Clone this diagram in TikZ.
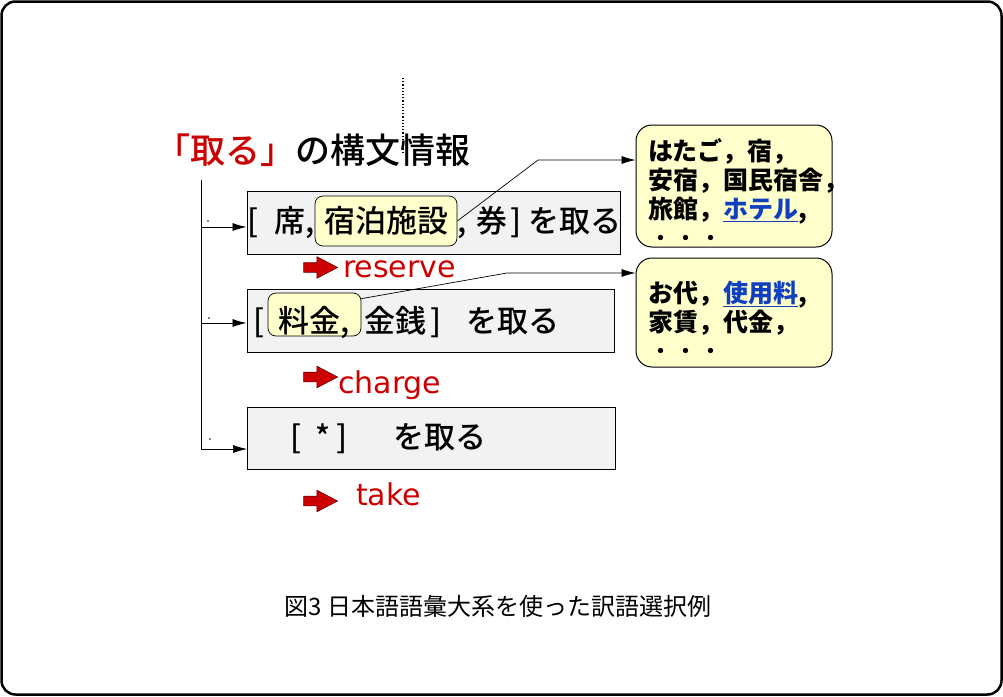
\documentclass[tikz,border=0pt]{standalone}
\usepackage{fontspec}
\setmainfont{Noto Sans CJK JP}
\newfontfamily\jpmed{Noto Sans CJK JP Medium}
\newfontfamily\latinsf{DejaVu Sans}
\usetikzlibrary{positioning,arrows.meta,shapes.arrows}
\definecolor{panel}{HTML}{F2F2F2}
\definecolor{memo}{HTML}{FFFFCC}
\definecolor{aka}{HTML}{CC0000}
\definecolor{ao}{HTML}{1040C0}

\tikzset{
  patternbox/.style={draw, line width=1pt, fill=panel, inner sep=0pt},
  hl/.style={draw, line width=0.7pt, fill=memo, rounded corners=8pt, inner sep=0pt},
  memobox/.style={draw, line width=1pt, fill=memo, rounded corners=16pt, inner sep=0pt, minimum width=196pt},
  redarrow/.style={single arrow, fill=aka, draw=aka!55!black, line width=0.6pt, inner sep=4.5pt,
    single arrow head extend=6pt, single arrow tip angle=55, minimum height=34pt},
  trans/.style={text=aka, font=\latinsf\fontsize{30}{36}\selectfont, anchor=base west, inner sep=0pt},
  jp/.style={font=\jpmed\fontsize{31}{36}\selectfont, inner sep=0pt},
  memotext/.style={font=\bfseries\fontsize{25}{29}\selectfont, align=left, anchor=north west, inner sep=0pt},
}

\begin{document}
\begin{tikzpicture}[>={Latex[length=14pt,width=8pt]}, x=1pt, y=-1pt]
  \useasboundingbox (0,0) rectangle (1003,696);
  \draw[line width=2.5pt, rounded corners=14pt] (1.5,1.5) rectangle (1001.5,694.5);

  % title
  \draw[dotted, line width=1.2pt] (403,78) -- (403,152);
  \node[anchor=west, inner sep=0pt, font=\jpmed\fontsize{35}{40}\selectfont] (title) at (155,150)
    {\textcolor{aka}{「取る」}の構文情報};

  % case frames
  \node[patternbox, minimum width=373pt, minimum height=63pt] (b1) at (433.5,222.5) {};
  \node[patternbox, minimum width=367pt, minimum height=63pt] (b2) at (430.5,320.5) {};
  \node[patternbox, minimum width=368pt, minimum height=62pt] (b3) at (431.5,438) {};

  \node[hl, jp, minimum width=142pt, minimum height=50pt] (h1) at (386,221) {宿泊施設};
  \node[jp, anchor=base east] (p1l) at (h1.base west) {[\hspace{9pt} 席,};
  \node[jp, anchor=base west] (p1r) at (h1.base east) {,\hspace{10pt}券\hspace{3pt}] を取る};

  \node[hl, minimum width=93pt, minimum height=43pt] (h2) at (314.5,314.5) {};
  \node[jp, anchor=base west] (p2) at (253,332)
    {[\hspace{14pt}料金,\hspace{15pt}金銭\hspace{4pt}]\hspace{25pt}を取る};

  \node[jp, anchor=base west] (p3) at (290,448) {[\hspace{14pt}*\hspace{6pt}]\hspace{46pt}を取る};

  % trunk
  \coordinate (trunk) at (201,180);
  \coordinate (in1) at ([yshift=-4.5pt]b1.west);
  \coordinate (in2) at ([yshift=-2.5pt]b2.west);
  \coordinate (in3) at ([yshift=-11pt]b3.west);
  \draw[line width=0.7pt, ->] (trunk) |- (in3);
  \draw[line width=0.7pt, ->] (in1 -| trunk) -- (in1);
  \draw[line width=0.7pt, ->] (in2 -| trunk) -- (in2);
  \fill (208,221) circle (0.9);
  \fill (209,318) circle (0.9);
  \fill (210,439) circle (0.9);

  % translations
  \node[redarrow] (r1) at (316,267.5) {};
  \node[trans] (t1) at (343,277) {reserve};
  \node[redarrow] (r2) at (316,377) {};
  \node[trans] (t2) at (338,393) {charge};
  \node[redarrow] (r3) at (316,501) {};
  \node[trans] (t3) at (356,505) {take};

  % word lists
  \node[memobox, minimum height=122pt] (c1) at (734,186) {};
  \node[memotext] (m1) at (648,138)
    {はたご，宿，\\安宿，国民宿舎，\\旅館，\textcolor{ao}{\underline{ホテル}},\\{\mdseries ・・・}};
  \node[memobox, minimum height=109pt] (c2) at (734,312.5) {};
  \node[memotext] (m2) at (648,281)
    {お代，\textcolor{ao}{\underline{使用料}},\\家賃，代金，\\{\mdseries ・・・}};

  \coordinate (k1) at (538,160);
  \coordinate (k2) at (507,273);
  \draw[line width=0.7pt, ->] (h1.east) -- (k1) -- (k1 -| c1.west);
  \draw[line width=0.7pt, ->] ([yshift=-6pt]h2.north east) -- (k2) -- (k2 -| c2.west);

  % caption
  \node[font=\fontsize{24}{28}\selectfont] (cap) at (498,606) {図3 日本語語彙大系を使った訳語選択例};
\end{tikzpicture}
\end{document}
